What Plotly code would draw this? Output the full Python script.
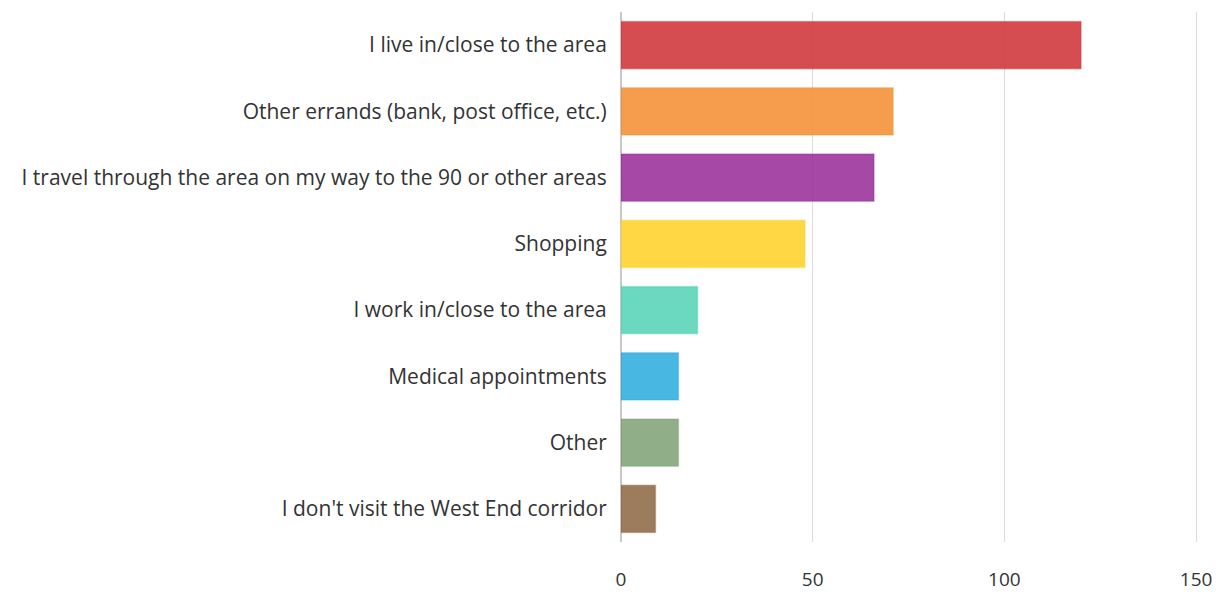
import plotly.graph_objects as go

categories = [
    "I live in/close to the area",
    "Other errands (bank, post office, etc.)",
    "I travel through the area on my way to the 90 or other areas",
    "Shopping",
    "I work in/close to the area",
    "Medical appointments",
    "Other",
    "I don't visit the West End corridor",
]
values = [120, 71, 66, 48, 20, 15, 15, 9]
colors = [
    "rgba(208,50,55,0.87)",
    "rgba(243,142,50,0.87)",
    "rgba(150,40,150,0.85)",
    "rgba(255,208,40,0.87)",
    "rgba(80,210,180,0.85)",
    "rgba(40,170,220,0.85)",
    "rgba(125,160,115,0.85)",
    "rgba(140,100,65,0.85)",
]
line_colors = [c.rsplit(",", 1)[0] + ",0.35)" for c in colors]

fig = go.Figure(go.Bar(
    x=values,
    y=categories,
    orientation="h",
    marker=dict(color=colors, line=dict(color=line_colors, width=1.5)),
    hoverinfo="x+y",
))

fig.update_layout(
    width=1226, height=592,
    margin=dict(l=621, r=28, t=12, b=50, autoexpand=False),
    paper_bgcolor="white", plot_bgcolor="white",
    font=dict(family="'Open Sans', sans-serif", size=21, color="#333333"),
    bargap=0.29,
    showlegend=False,
)
fig.update_xaxes(
    range=[0, 150.5], tickvals=[0, 50, 100, 150],
    showgrid=True, gridcolor="#dcdcdc", gridwidth=1.3,
    zeroline=True, zerolinecolor="#c8c8c8", zerolinewidth=2,
    showline=False, ticks="outside", ticklen=20, tickcolor="rgba(0,0,0,0)",
    tickfont=dict(size=19, color="#333333"),
    automargin=False, fixedrange=True,
)
fig.update_yaxes(
    autorange="reversed", showgrid=False, showline=False,
    ticks="outside", ticklen=9, tickcolor="rgba(0,0,0,0)",
    tickfont=dict(size=21, color="#333333"),
    automargin=False, fixedrange=True,
)

fig.write_html("out.html", config={"displayModeBar": False},
               post_script="document.body.style.margin='0';")
